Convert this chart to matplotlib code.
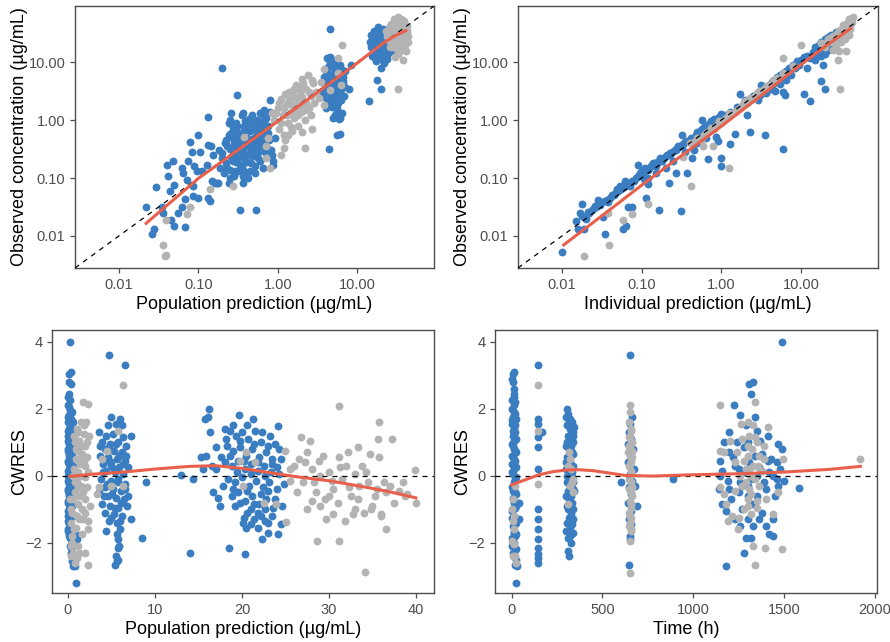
import numpy as np
import matplotlib
matplotlib.use("Agg")
import matplotlib.pyplot as plt
from matplotlib.ticker import FixedLocator, FixedFormatter

plt.rcParams['font.family'] = ['Liberation Sans', 'DejaVu Sans']

BLUE = '#3A7DC1'
GREY = '#B3B3B3'
RED = '#E8604C'

# ---- panel 1: DV vs PRED (log) ----
tl_blue = [(0.022, 0.031), (0.026, 0.011), (0.028, 0.013), (0.029, 0.071), (0.035, 0.032), (0.036, 0.025),
           (0.040, 0.17), (0.042, 0.11), (0.044, 0.059), (0.045, 0.019), (0.048, 0.20), (0.049, 0.077),
           (0.049, 0.015), (0.056, 0.025), (0.062, 0.032), (0.063, 0.15), (0.064, 0.12), (0.068, 0.014),
           (0.068, 0.044), (0.071, 0.094), (0.075, 0.20), (0.079, 0.42), (0.083, 0.28), (0.085, 0.048),
           (0.086, 0.072), (0.088, 0.16), (0.095, 0.13), (0.10, 0.55), (0.10, 0.045), (0.105, 0.28),
           (0.112, 0.13), (0.128, 0.17), (0.134, 1.14), (0.134, 0.37), (0.134, 0.045), (0.14, 0.040),
           (0.145, 0.36), (0.15, 0.088), (0.155, 0.25), (0.16, 0.083), (0.17, 0.083), (0.175, 0.082),
           (0.20, 7.9), (0.20, 0.27), (0.215, 0.40), (0.24, 0.083), (0.25, 1.0), (0.26, 1.3), (0.28, 0.40),
           (0.31, 2.7), (0.33, 0.028), (0.36, 0.083), (0.37, 1.3), (0.40, 0.75), (0.45, 1.0), (0.47, 0.46),
           (0.53, 0.028), (0.55, 0.27), (0.57, 0.60), (0.65, 1.2), (0.68, 1.5), (0.72, 0.55), (0.79, 2.2),
           (0.83, 0.31), (0.88, 0.20), (0.93, 0.50),
           (0.21, 0.12), (0.22, 0.18), (0.23, 0.35), (0.24, 0.55), (0.25, 0.14), (0.26, 0.23), (0.27, 0.75),
           (0.28, 0.11), (0.29, 0.45), (0.30, 0.19), (0.30, 0.9), (0.31, 0.32), (0.32, 0.13), (0.33, 0.6),
           (0.34, 0.24), (0.35, 1.2), (0.35, 0.16), (0.36, 0.42), (0.37, 0.29), (0.38, 0.8), (0.39, 0.2),
           (0.40, 0.12), (0.41, 0.5), (0.42, 0.35), (0.43, 1.05), (0.44, 0.26), (0.45, 0.65), (0.46, 0.18),
           (0.48, 0.4), (0.50, 0.9), (0.52, 0.3), (0.55, 0.55), (0.57, 0.22), (0.6, 1.3), (0.62, 0.75),
           (0.65, 0.4), (0.68, 0.95), (0.7, 0.28), (0.75, 0.6), (0.8, 1.4), (0.85, 0.25), (0.88, 0.17),
           (0.78, 0.45), (0.33, 0.38), (0.27, 0.5), (0.38, 0.1), (0.45, 0.85), (0.3, 0.27), (0.25, 0.32),
           (0.53, 0.7),
           (0.22, 0.45), (0.23, 0.15), (0.24, 0.9), (0.26, 0.6), (0.27, 0.2), (0.28, 0.3), (0.29, 0.13),
           (0.3, 0.55), (0.31, 0.8), (0.32, 0.22), (0.33, 0.17), (0.34, 0.45), (0.35, 0.3), (0.36, 0.62),
           (0.37, 0.14), (0.38, 0.35), (0.39, 0.95), (0.4, 0.25), (0.41, 0.19), (0.42, 0.7), (0.44, 0.4),
           (0.45, 0.13), (0.46, 0.32), (0.47, 1.2), (0.48, 0.24), (0.5, 0.5), (0.51, 0.16), (0.53, 0.38),
           (0.55, 1.0), (0.56, 0.28), (0.58, 0.45), (0.6, 0.2), (0.62, 0.35), (0.64, 0.6), (0.66, 0.15),
           (0.7, 0.5), (0.72, 1.1), (0.74, 0.33), (0.76, 0.8), (0.42, 0.1), (0.36, 0.11), (0.31, 0.38),
           (0.29, 0.65), (0.52, 0.12), (0.58, 0.9), (0.25, 0.1), (0.2, 0.22), (0.18, 0.3), (0.19, 0.15),
           (3.6, 3.0), (3.8, 5.5), (4.0, 2.4), (4.1, 7.5), (4.3, 4.0), (4.4, 2.0), (4.5, 9.5), (4.6, 3.3),
           (4.7, 6.3), (4.8, 1.7), (4.9, 4.6), (5.0, 8.5), (5.1, 2.8), (5.2, 5.2), (5.3, 3.6), (5.4, 11),
           (5.5, 1.4), (5.6, 6.8), (5.7, 4.2), (5.8, 2.5), (6.0, 9.0), (6.1, 3.1), (6.2, 5.8), (6.4, 1.3),
           (6.6, 4.8), (6.8, 3.9), (7.0, 7.0), (4.2, 12), (5.0, 1.1), (5.9, 1.05), (3.9, 3.6), (5.3, 2.2),
           (4.6, 37),
           (3.7, 4.5), (3.9, 2.8), (4.0, 6.0), (4.2, 3.0), (4.3, 8.2), (4.4, 5.0), (4.5, 2.4), (4.6, 4.4),
           (4.7, 3.8), (4.8, 10.5), (4.9, 2.1), (5.0, 5.8), (5.1, 4.0), (5.2, 7.5), (5.3, 2.9), (5.4, 4.8),
           (5.5, 3.4), (5.6, 9.5), (5.7, 2.0), (5.8, 5.2), (5.9, 3.3), (6.0, 4.4), (6.2, 2.2), (6.3, 7.6),
           (6.5, 3.6), (6.7, 5.6), (4.1, 1.6), (5.2, 1.2), (5.6, 1.6), (4.5, 12.5),
           (15, 18), (15.5, 25), (16, 14), (17, 30), (17.5, 20), (18, 35), (18.5, 16), (19, 26), (20, 12.5),
           (20.5, 22), (21, 38), (22, 17), (23, 29), (23.5, 13), (24, 33), (25, 21), (26, 40), (27, 15.5),
           (28, 25), (22, 9.5), (20, 8.0), (16, 27), (19, 19), (24, 11.5), (29, 36), (17, 12),
           (14.5, 22), (15, 30), (16, 20), (16.5, 34), (17, 16), (18, 24), (18.5, 40), (19, 14), (19.5, 31),
           (20, 18), (21, 27), (21.5, 15), (22, 34), (22.5, 23), (23, 19), (24, 26), (25, 15), (25, 30),
           (26, 23), (27, 35), (17.5, 10.5), (21, 11), (23, 21), (19, 22), (15.5, 13),
           (18, 5.0), (20, 3.4), (14, 2.1), (8.3, 9.0), (8.0, 3.5), (6.8, 2.6), (6.0, 0.58), (5.5, 0.56),
           (4.4, 0.32), (6.0, 1.1)]
tl_grey = [(0.036, 0.007), (0.039, 0.0047), (0.038, 0.0045), (0.039, 0.019), (0.071, 0.024), (0.079, 0.032),
           (0.14, 0.064), (0.27, 0.073), (0.38, 0.52), (0.72, 0.35), (0.72, 0.22), (0.79, 0.15), (0.84, 1.3),
           (1.1, 0.25), (1.2, 0.33), (2.2, 0.33), (0.75, 0.5),
           (0.9, 1.0), (1.0, 1.6), (1.05, 0.7), (1.1, 2.3), (1.15, 1.2), (1.2, 0.55), (1.3, 1.9), (1.35, 0.9),
           (1.4, 3.0), (1.45, 1.4), (1.5, 0.65), (1.55, 2.6), (1.6, 1.1), (1.7, 4.0), (1.75, 1.8), (1.8, 0.8),
           (1.9, 2.9), (1.95, 1.4), (2.0, 5.2), (2.1, 2.1), (2.2, 1.0), (2.3, 3.5), (2.4, 6.0), (2.5, 1.6),
           (2.6, 2.6), (2.7, 0.7), (2.8, 4.3), (1.25, 0.45), (2.0, 0.62), (3.5, 4.5), (3.8, 1.8), (3.3, 2.4),
           (0.95, 1.3), (1.05, 2.0), (1.1, 0.9), (1.2, 1.6), (1.25, 2.8), (1.3, 1.2), (1.4, 2.2), (1.45, 0.75),
           (1.5, 1.8), (1.6, 3.4), (1.65, 1.5), (1.7, 2.4), (1.8, 1.2), (1.85, 3.6), (1.9, 1.8), (2.0, 2.5),
           (2.1, 4.4), (2.2, 1.5), (2.3, 2.0), (2.5, 3.1), (2.6, 1.2), (2.7, 5.0), (2.9, 2.0), (3.0, 3.0),
           (1.35, 0.55),
           (4.5, 3.3), (5.7, 6.5), (6.4, 20), (5.8, 11.7), (3.8, 7.5), (6.2, 4.0),
           (24, 28), (25, 35), (26, 18), (27, 45), (28, 24), (29, 55), (30, 30), (31, 20), (32, 40), (33, 60),
           (34, 26), (35, 48), (36, 17), (37, 35), (38, 22), (39, 52), (40, 30), (41, 15.5), (42, 42),
           (30, 12.5), (33, 14), (36, 38), (28, 32), (31, 27), (35, 24), (39, 19), (44, 28), (27, 21),
           (23, 34), (25, 24), (26, 30), (27, 38), (28, 18), (29, 42), (30, 22), (31, 35), (32, 26), (33, 48),
           (34, 19), (34, 36), (35, 30), (36, 55), (37, 24), (38, 42), (40, 20), (40, 37), (41, 28), (43, 35),
           (29, 27), (32, 17), (37, 16), (26, 42), (44, 22),
           (33, 3.4), (38, 11)]
tl_smooth_x = [0.022, 0.035, 0.05, 0.075, 0.1, 0.15, 0.2, 0.3, 0.5, 1, 2, 3, 5, 7, 10, 15, 22, 30, 41]
tl_smooth_y = [0.0165, 0.0286, 0.0434, 0.070, 0.0985, 0.146, 0.194, 0.29, 0.48, 0.95, 1.9, 2.85, 4.8, 6.7,
               9.6, 14.8, 22, 28.5, 35]

# ---- panel 2: DV vs IPRED (log) ----
tr_blue = [(0.01, 0.0052), (0.016, 0.013), (0.017, 0.025), (0.018, 0.035), (0.019, 0.013), (0.026, 0.033),
           (0.028, 0.042), (0.033, 0.021), (0.035, 0.0107), (0.037, 0.042), (0.038, 0.038), (0.049, 0.064),
           (0.053, 0.073), (0.059, 0.013), (0.062, 0.088), (0.064, 0.015), (0.068, 0.031), (0.072, 0.073),
           (0.075, 0.031), (0.091, 0.17), (0.108, 0.095), (0.115, 0.046), (0.12, 0.078), (0.135, 0.17),
           (0.165, 0.028), (0.17, 0.21), (0.22, 0.083), (0.23, 0.25), (0.27, 0.12), (0.31, 0.027),
           (0.32, 0.56), (0.37, 0.12), (0.43, 0.22), (0.57, 1.0), (0.68, 0.21), (0.87, 0.52), (0.92, 0.43),
           (0.98, 0.16), (1.0, 0.22), (1.27, 0.39), (1.5, 0.58), (1.7, 2.8), (2.1, 1.2), (2.3, 0.62),
           (3.5, 0.56), (6.0, 0.32), (2.9, 2.2), (3.1, 2.7), (6.3, 2.7), (11, 2.8), (13, 2.1), (12, 7.9),
           (18, 4.8), (20, 3.4), (19, 9.0),
           (0.015, 0.018), (0.018, 0.022), (0.02, 0.02), (0.022, 0.025), (0.025, 0.03), (0.03, 0.034),
           (0.035, 0.04), (0.04, 0.045), (0.045, 0.05), (0.05, 0.06), (0.055, 0.065), (0.06, 0.07),
           (0.07, 0.075), (0.08, 0.09), (0.09, 0.11), (0.1, 0.13), (0.11, 0.15), (0.12, 0.14), (0.13, 0.16),
           (0.14, 0.18), (0.15, 0.16), (0.16, 0.19), (0.17, 0.22), (0.18, 0.2), (0.2, 0.24), (0.22, 0.26),
           (0.24, 0.28), (0.26, 0.3), (0.28, 0.33), (0.3, 0.36), (0.32, 0.35), (0.35, 0.42), (0.4, 0.45),
           (0.45, 0.5), (0.5, 0.62), (0.55, 0.68), (0.6, 0.75), (0.65, 0.8), (0.7, 0.85), (0.75, 0.95),
           (0.8, 1.05), (0.85, 1.0), (0.9, 1.1), (1.0, 1.25), (1.1, 1.2), (1.3, 1.4), (1.6, 1.7), (2.0, 2.2),
           (2.5, 2.6), (3.0, 3.0), (3.5, 3.6), (4.0, 4.1), (4.5, 4.2), (5.0, 5.5), (5.5, 6.0), (6.0, 6.4),
           (6.5, 7.0), (7.0, 8.0), (8.0, 9.0), (9.0, 10.5), (10, 11), (12, 13), (14, 15), (15, 18), (16, 14),
           (17, 20), (18, 22), (19, 17), (20, 25), (21, 19), (22, 27), (24, 30), (25, 23), (26, 28), (28, 33),
           (30, 35), (32, 30), (34, 38), (36, 34), (38, 40), (40, 37), (5.5, 4.2), (6.5, 5.0), (4.2, 3.5),
           (3.7, 2.9), (7.5, 6.0), (3.2, 4.0), (2.8, 2.5), (4.8, 3.2), (6, 3.0), (0.5, 0.4), (0.45, 0.3),
           (0.65, 0.5), (0.35, 0.28), (0.25, 0.2), (0.2, 0.15), (0.15, 0.12), (0.12, 0.1), (15, 11), (18, 13),
           (22, 16), (25, 18), (20, 14),
           (0.021, 0.026), (0.024, 0.028), (0.027, 0.032), (0.032, 0.038), (0.042, 0.05), (0.048, 0.058),
           (0.058, 0.07), (0.065, 0.078), (0.075, 0.09), (0.085, 0.1), (0.095, 0.12), (0.105, 0.12),
           (0.125, 0.15), (0.145, 0.17), (0.155, 0.19), (0.19, 0.22), (0.21, 0.25), (0.23, 0.27), (0.27, 0.31),
           (0.29, 0.35), (0.33, 0.38), (0.37, 0.43), (0.42, 0.5), (0.48, 0.56), (0.52, 0.6), (0.58, 0.7),
           (0.62, 0.72), (0.68, 0.8), (0.72, 0.9), (0.78, 0.92), (0.82, 0.98), (0.95, 1.15), (3.3, 3.3),
           (3.8, 3.7), (4.3, 4.6), (4.7, 4.9), (5.2, 5.0), (5.8, 5.6), (6.3, 6.0), (7.0, 6.8), (7.5, 7.8),
           (8.5, 8.0), (9.5, 9.0), (11, 12.5), (13, 12), (16, 17), (19, 21), (21, 23), (23, 22), (27, 26),
           (29, 31), (31, 33), (35, 32)]
tr_grey = [(0.019, 0.0045), (0.039, 0.007), (0.038, 0.025), (0.059, 0.019), (0.075, 0.024), (0.12, 0.035),
           (0.33, 0.23), (0.42, 0.073), (0.59, 0.35), (0.78, 0.36), (1.25, 0.15), (31, 3.4), (29, 11),
           (37, 15.6), (10, 20), (6, 11.7),
           (0.4, 0.4), (0.5, 0.5), (0.55, 0.45), (0.6, 0.55), (0.7, 0.65), (0.8, 0.7), (0.9, 0.85), (1.0, 0.9),
           (1.1, 1.05), (1.2, 1.15), (1.3, 1.25), (1.5, 1.4), (1.7, 1.6), (1.9, 1.9), (2.1, 2.0), (2.3, 2.4),
           (2.5, 2.3), (2.8, 2.9), (3.0, 3.2), (3.4, 3.5), (3.8, 3.9), (4.5, 5.0), (6.0, 6.5), (8, 8.5),
           (18, 21), (20, 18), (22, 25), (24, 22), (25, 28), (26, 24), (28, 30), (30, 27), (30, 34), (32, 31),
           (33, 38), (34, 29), (35, 36), (36, 42), (38, 33), (40, 45), (42, 38), (44, 50), (40, 55), (45, 60),
           (28, 20), (32, 22), (36, 25), (40, 30), (25, 16), (30, 15.5),
           (0.45, 0.42), (0.65, 0.6), (0.75, 0.72), (0.85, 0.8), (0.95, 0.95), (1.05, 0.98), (1.15, 1.1),
           (1.25, 1.3), (1.4, 1.3), (1.6, 1.5), (1.8, 1.75), (2.0, 2.1), (2.2, 2.15), (2.6, 2.5), (3.2, 3.1),
           (3.6, 3.7), (4.0, 4.0), (5.0, 5.3), (21, 22), (23, 26), (27, 27), (29, 33), (31, 36), (33, 32),
           (35, 40), (37, 39), (39, 42), (41, 44), (43, 45), (38, 48), (42, 55), (34, 44)]
tr_smooth_x = [0.0105, 0.03, 0.1, 0.3, 1, 3, 10, 20, 42]
tr_smooth_y = [0.007, 0.021, 0.075, 0.23, 0.78, 2.5, 9.0, 18.5, 38]

# ---- panel 3: CWRES vs PRED ----
bl_blue = [(0.1, 3.05), (0.3, 3.1), (0.1, 2.8), (0.3, 2.75), (0.1, 2.45), (0.2, 2.25), (0.05, 2.1), (0.2, 1.95),
           (0.1, 1.8), (0.3, 1.7), (0.05, 1.6), (0.2, 1.5), (0.1, 1.4), (0.3, 1.3), (0.05, 1.2), (0.2, 1.1),
           (0.1, 1.0), (0.3, 0.9), (0.05, 0.8), (0.2, 0.7), (0.1, 0.6), (0.3, 0.5), (0.05, 0.4), (0.2, 0.3),
           (0.1, 0.2), (0.3, 0.1), (0.05, 0.0), (0.2, -0.1), (0.1, -0.2), (0.3, -0.3), (0.05, -0.4), (0.2, -0.5),
           (0.1, -0.6), (0.3, -0.7), (0.05, -0.8), (0.2, -0.9), (0.1, -1.0), (0.3, -1.1), (0.05, -1.2),
           (0.2, -1.3), (0.1, -1.4), (0.3, -1.5), (0.05, -1.6), (0.2, -1.7), (0.1, -1.8), (0.3, -1.9),
           (0.5, -2.0), (0.2, -2.1), (0.4, -2.3), (0.6, -2.45), (0.6, -2.7), (0.8, -2.7), (0.9, -3.2),
           (0.2, 4.0), (0.6, 1.6), (0.7, 1.2), (0.8, -1.7), (0.7, -1.9), (0.6, -0.3), (0.6, 0.3), (0.9, -1.2),
           (1.0, -1.9),
           (0.0, 2.35), (0.15, 2.05), (0.25, 1.85), (0.0, 1.75), (0.15, 1.65), (0.25, 1.45), (0.0, 1.35),
           (0.15, 1.25), (0.25, 1.15), (0.0, 1.05), (0.15, 0.95), (0.25, 0.85), (0.0, 0.75), (0.15, 0.65),
           (0.25, 0.55), (0.0, 0.45), (0.15, 0.35), (0.25, 0.25), (0.0, 0.15), (0.15, 0.05), (0.25, -0.05),
           (0.0, -0.15), (0.15, -0.25), (0.25, -0.35), (0.0, -0.45), (0.15, -0.55), (0.25, -0.65), (0.0, -0.75),
           (0.15, -0.85), (0.25, -0.95), (0.0, -1.05), (0.15, -1.15), (0.25, -1.25), (0.0, -1.35),
           (0.15, -1.45), (0.25, -1.55), (0.0, -1.65), (0.15, -1.75), (0.25, -1.85), (0.4, -2.15), (0.5, -2.55),
           (0.4, -1.6), (0.45, 1.9), (0.45, 0.6), (0.45, -0.9),
           (4.7, 3.6), (6.6, 3.3), (5.0, 1.75), (6.0, 1.7), (5.5, 1.55), (3.6, 1.3), (4.4, 1.2), (5.2, 1.25),
           (6.3, 1.15), (7.2, 1.2), (3.9, 1.0), (4.8, 0.95), (5.8, 1.0), (6.7, 0.9), (4.2, 0.8), (5.3, 0.75),
           (6.2, 0.7), (3.7, 0.6), (4.6, 0.55), (5.6, 0.5), (6.5, 0.45), (4.0, 0.35), (5.0, 0.3), (5.9, 0.25),
           (6.9, 0.25), (4.4, 0.15), (5.4, 0.1), (6.3, 0.05), (3.8, -0.1), (4.9, -0.15), (5.7, -0.2),
           (6.6, -0.25), (4.2, -0.35), (5.2, -0.4), (6.1, -0.45), (3.6, -0.5), (4.6, -0.6), (5.5, -0.65),
           (6.4, -0.7), (3.9, -0.85), (4.8, -0.9), (5.8, -0.95), (6.8, -0.9), (4.3, -1.1), (5.3, -1.15),
           (6.2, -1.2), (4.7, -1.35), (5.6, -1.4), (4.4, -1.65), (6.0, -1.6), (5.8, -1.9), (5.7, -2.15),
           (5.5, -2.4), (5.8, -2.5), (5.4, -2.65), (7.3, -1.3),
           (3.7, 0.9), (4.0, 0.1), (4.3, 0.45), (4.5, -0.25), (4.7, 0.85), (4.9, 0.4), (5.1, -0.55), (5.3, 0.2),
           (5.5, 0.95), (5.7, -0.1), (5.9, 0.6), (6.1, -0.8), (6.3, 0.35), (6.5, -0.4), (6.7, 0.6), (6.9, -0.6),
           (5.0, -1.25), (5.4, -0.95), (6.0, -1.35), (4.6, 1.5), (6.2, 1.5), (5.6, -1.75), (5.9, -2.1),
           (5.6, -2.55), (4.1, -0.6),
           (9.0, -0.2), (8.5, -1.85), (13, 0.03), (14.4, -0.1), (14, -2.3), (18.5, -2.15), (20.4, -2.35),
           (16.2, 2.0), (16.1, 1.75), (15.7, 1.7), (16.3, 1.3), (15.3, 0.55), (15.5, 0.2), (17.0, 0.85),
           (16.7, -0.5), (17.3, -0.65), (17.5, -0.9), (19.7, 1.8), (21.3, 1.7), (24.1, 1.48), (23.0, -1.7),
           (22.3, -1.88), (24.1, -1.74), (24.5, -1.45), (20.5, -1.57),
           (18.0, 1.4), (18.6, 1.35), (19.3, 1.2), (20.0, 1.3), (20.7, 1.1), (21.5, 1.35), (22.2, 1.0),
           (23.2, 1.2), (23.8, 0.95), (18.3, 0.9), (19.0, 0.75), (19.8, 0.85), (20.5, 0.6), (21.2, 0.8),
           (22.0, 0.55), (22.8, 0.7), (23.5, 0.5), (24.3, 0.8), (18.0, 0.4), (18.8, 0.3), (19.5, 0.45),
           (20.3, 0.2), (21.0, 0.35), (21.8, 0.15), (22.5, 0.3), (23.3, 0.1), (24.0, 0.25), (18.4, -0.1),
           (19.2, -0.2), (20.0, -0.05), (20.8, -0.3), (21.6, -0.15), (22.4, -0.35), (23.1, -0.2), (24.0, -0.4),
           (24.8, -0.25), (18.8, -0.6), (19.6, -0.5), (20.4, -0.75), (21.2, -0.6), (22.0, -0.85), (22.8, -0.7),
           (23.6, -0.95), (19.2, -0.9), (20.6, -1.1), (21.4, -1.3), (22.2, -1.2), (23.0, -1.4), (20.1, -1.4),
           (21.8, -1.55), (16.5, 0.3), (17.6, 0.55), (17.8, -0.3), (15.9, 0.6), (21.0, -1.0), (22.6, -1.0),
           (18.2, 1.1), (19.0, 1.5), (19.8, 1.05), (20.6, 1.5), (21.4, 0.95), (22.3, 1.3), (23.0, 0.9),
           (18.6, 0.6), (19.4, 0.1), (20.2, 0.45), (21.0, 0.05), (21.8, 0.4), (22.6, 0.0), (23.4, 0.35),
           (24.2, 0.05), (19.0, -0.4), (19.8, -0.8), (20.6, -0.45), (21.4, -0.85), (22.2, -0.55), (23.0, -0.45),
           (23.8, -0.7), (20.2, -1.25), (21.0, -1.45), (21.8, -1.1), (22.6, -1.35), (23.4, -1.2), (24.5, 0.5),
           (24.6, -0.9), (17.0, 0.2)]
bl_grey = [(1.7, 2.2), (2.3, 2.15), (1.5, 1.6), (2.1, 1.6), (1.0, 1.4), (1.8, 1.25), (2.4, 1.2), (0.8, 1.0),
           (1.3, 1.05), (2.0, 0.9), (1.1, 0.75), (1.6, 0.65), (2.2, 0.55), (0.9, 0.5), (1.4, 0.35), (2.0, 0.3),
           (0.7, 0.2), (1.2, 0.1), (1.9, -0.05), (1.0, -0.2), (1.5, -0.3), (2.2, -0.35), (0.8, -0.5),
           (1.3, -0.6), (1.9, -0.7), (0.6, -0.7), (1.1, -0.85), (1.6, -1.0), (2.5, -0.9), (0.5, -1.1),
           (1.0, -1.2), (1.7, -1.3), (2.3, -1.35), (0.4, -1.4), (2.3, -1.6), (0.9, -1.55), (0.5, -2.0),
           (0.3, -2.1), (0.4, -2.4), (1.2, -2.1), (1.3, -2.3), (0.8, -2.6), (2.0, -2.3), (2.3, -2.65),
           (0.2, -0.7), (0.3, -1.0),
           (0.7, 1.2), (1.2, 1.3), (1.8, 1.5), (2.2, 1.0), (0.9, 0.8), (1.5, 0.9), (1.8, 0.45), (1.1, 0.5),
           (0.6, 0.0), (1.4, 0.0), (2.3, 0.1), (0.8, -0.2), (1.7, -0.5), (1.2, -0.35), (2.0, -1.1), (1.3, -1.3),
           (0.7, -1.6), (1.6, -1.75), (0.5, -1.8), (0.6, -2.3), (1.0, -2.45),
           (6.3, 2.7), (5.0, -0.3), (6.3, -0.3), (3.6, -0.35), (5.7, 1.35), (4.5, 0.75), (3.3, -0.55), (3.9, 0.5),
           (31.2, 2.07), (35.7, 1.6), (35.6, 1.1), (37.2, 1.1), (34.1, -2.87), (28.6, -1.95), (31.1, -1.95),
           (36.6, -1.6), (39.9, 0.18), (40.0, -0.8), (38.7, -0.6), (31.8, -1.35), (29.7, -1.3), (26.8, 1.15),
           (27.8, 1.05), (31.2, 0.55), (32.2, 0.7), (33.3, 0.85), (34.7, 0.65), (35.8, 0.55), (24.9, 0.75),
           (25.1, -1.38), (23.9, -0.83),
           (26.0, 0.3), (27.0, -0.2), (28.0, 0.2), (28.5, -0.5), (29.0, 0.0), (29.5, -0.7), (30.0, 0.1),
           (30.5, -0.4), (31.0, -0.8), (31.5, -0.1), (32.0, 0.3), (32.5, -0.6), (33.0, -1.0), (33.5, -0.3),
           (34.0, -1.1), (34.5, -0.2), (35.0, -0.9), (35.5, -0.4), (36.0, -1.15), (36.5, -0.5), (37.0, -0.3),
           (38.0, -0.45), (27.5, -1.0), (29.0, -0.9), (30.5, -1.15), (26.5, 0.5), (28.8, 0.45), (33.8, 0.3),
           (25.5, 0.2), (27.2, 0.4), (20.5, 0.7), (19.8, 0.45), (20.1, -0.3), (21.5, 0.4), (25.5, -0.15),
           (22.5, -0.8),
           (26.3, -0.5), (27.5, 0.7), (28.3, -0.2), (29.3, 0.6), (30.3, -0.15), (31.3, 0.25), (32.3, -0.35),
           (33.3, -0.7), (34.3, 0.1), (35.3, -0.6), (36.3, -0.2), (37.5, -0.8), (38.5, -0.2), (39.0, -0.55),
           (32.8, -1.15), (34.8, -1.0), (33.0, 0.05), (30.0, -0.6), (28.0, -0.75), (36.0, -1.2)]
bl_smooth_x = [0.2, 3, 6, 10, 14, 17, 20, 23, 26, 30, 34, 37, 40]
bl_smooth_y = [-0.02, 0.05, 0.10, 0.20, 0.28, 0.30, 0.22, 0.10, -0.02, -0.15, -0.33, -0.48, -0.66]

# ---- panel 4: CWRES vs TIME ----
br_blue = [(5, 3.05), (15, 3.1), (5, 2.8), (10, 2.35), (20, 2.2), (0, 2.0), (15, 1.9), (5, 1.75), (25, 1.7),
           (0, 1.55), (10, 1.45), (20, 1.3), (5, 1.2), (15, 1.05), (0, 0.95), (10, 0.8), (25, 0.7), (5, 0.55),
           (20, 0.45), (0, 0.35), (15, 0.2), (5, 0.05), (25, -0.05), (10, -0.2), (0, -0.35), (20, -0.5),
           (5, -0.65), (15, -0.8), (25, -0.9), (0, -1.05), (10, -1.2), (20, -1.35), (5, -1.5), (15, -1.65),
           (25, -1.75), (0, -1.85), (10, -2.0), (20, -2.15), (5, -2.3), (25, -2.5), (20, -2.65), (25, -3.2),
           (40, -0.8), (40, -1.3),
           (0, 2.9), (10, 2.6), (15, 2.45), (0, 2.25), (10, 2.1), (20, 1.85), (0, 1.65), (10, 1.6), (20, 1.5),
           (5, 1.35), (15, 1.25), (25, 1.1), (5, 0.9), (20, 0.75), (0, 0.6), (15, 0.5), (10, 0.3), (25, 0.25),
           (0, 0.1), (20, -0.1), (15, -0.3), (5, -0.45), (25, -0.55), (10, -0.75), (20, -0.95), (0, -1.25),
           (25, -1.4), (15, -1.5), (10, -1.7), (20, -1.8), (0, -2.1), (15, -2.35), (5, -2.0), (25, -2.2),
           (30, -2.7),
           (143, 3.3), (143, 1.7), (143, 1.55), (165, 1.3), (143, 1.15), (143, 0.85), (143, 0.2), (143, -1.0),
           (143, -1.3), (143, -1.6), (143, -1.9), (143, -2.15), (143, -2.35), (143, -2.45), (143, -2.6),
           (305, 2.0), (310, 1.85), (320, 1.7), (330, 1.6), (305, 1.5), (320, 1.4), (335, 1.3), (310, 1.2),
           (325, 1.1), (340, 1.0), (300, 0.9), (315, 0.8), (330, 0.7), (305, 0.55), (320, 0.45), (335, 0.3),
           (300, 0.2), (315, 0.1), (330, -0.05), (305, -0.2), (320, -0.35), (340, -0.4), (300, -0.6),
           (315, -0.7), (330, -0.8), (310, -1.0), (325, -1.15), (340, -1.3), (305, -1.4), (320, -1.55),
           (335, -1.7), (310, -1.85), (325, -2.0), (310, -2.25), (315, -2.4), (345, 1.45), (345, -0.45),
           (300, 1.75), (315, 1.65), (330, 1.45), (340, 1.2), (305, 1.0), (325, 0.9), (340, 0.65), (300, 0.4),
           (320, 0.25), (305, 0.0), (330, 0.1), (340, -0.2), (310, -0.45), (325, -0.6), (305, -0.9),
           (335, -1.0), (315, -1.25), (300, -1.65), (330, -1.45), (320, -1.8),
           (650, 3.6), (665, 1.75), (650, 1.55), (645, 1.3), (660, 1.1), (640, 0.95), (670, 0.8), (655, 0.6),
           (640, 0.4), (675, 0.2), (650, 0.05), (665, -0.15), (645, -0.35), (680, -0.3), (660, -0.55),
           (640, -0.8), (690, -0.9), (655, -1.05), (645, -1.3), (660, -1.45), (650, -1.8), (650, -1.9),
           (645, -2.65), (600, -0.2), (890, -0.1),
           (1490, 4.0), (1310, 2.75), (1330, 2.8), (1320, 2.45), (1225, 2.1), (1260, 1.8), (1340, 1.75),
           (1195, 1.3), (1290, 1.5), (1350, 1.35), (1410, 1.2), (1470, 0.95), (1240, 1.0), (1150, 0.45),
           (1200, 0.7), (1280, 0.85), (1380, 0.65), (1430, 0.5), (1490, 0.8), (1160, 0.15), (1230, 0.3),
           (1310, 0.4), (1360, 0.25), (1420, 0.1), (1480, 0.2), (1140, -0.4), (1190, -0.15), (1250, -0.5),
           (1300, -0.3), (1350, -0.6), (1400, -0.4), (1460, -0.1), (1500, -0.15), (1160, -0.85), (1210, -0.7),
           (1270, -1.0), (1330, -0.85), (1380, -1.1), (1440, -1.3), (1180, -1.05), (1300, -1.3), (1330, -1.5),
           (1290, -1.85), (1320, -1.85), (1280, -2.3), (1180, -2.7), (1420, -1.75), (1440, -1.8), (1585, -0.37),
           (1460, 0.4), (1150, 0.0), (1250, 0.2),
           (1170, 1.0), (1220, 0.55), (1260, -0.2), (1280, 0.1), (1300, 1.0), (1320, -0.1), (1340, 0.6),
           (1370, 1.05), (1390, -0.2), (1410, 0.45), (1440, 0.0), (1450, -0.6), (1470, -0.3), (1400, -1.5),
           (1360, -1.3), (1230, -1.3), (1260, -1.5), (1300, -0.6), (1200, -0.4), (1350, 0.0)]
br_grey = [(5, -0.7), (0, -1.0), (10, -1.2), (5, -1.35), (0, -1.95), (10, -2.05), (5, -2.4), (20, -2.4),
           (25, -2.6), (20, -0.3), (15, -1.6),
           (143, 2.7), (143, 1.35), (143, -0.25),
           (315, 0.7), (320, 0.5), (310, 0.3), (325, 0.2), (330, -0.2), (320, -0.3), (335, -0.5), (310, -0.85),
           (340, -0.1),
           (650, 2.1), (645, 1.6), (655, 1.4), (650, 1.2), (660, 1.05), (645, 0.9), (665, 0.75), (650, 0.6),
           (655, 0.45), (645, 0.3), (660, 0.15), (650, 0.0), (655, -0.2), (645, -0.4), (665, -0.6), (650, -0.75),
           (655, -0.95), (645, -1.1), (660, -1.25), (650, -1.4), (655, -1.65), (650, -1.95), (650, -2.9),
           (665, -0.35),
           (650, 1.9), (660, 1.35), (645, 1.15), (655, 0.95), (665, 0.55), (650, 0.35), (660, 0.05), (645, -0.1),
           (655, -0.5), (660, -0.85), (650, -1.2), (645, -1.5), (660, -1.6), (665, 1.0), (640, 0.7),
           (1150, 2.1), (1340, 2.2), (1265, 1.55), (1330, 1.5), (1205, 1.05), (1270, 1.1), (1350, 1.0),
           (1390, 0.9), (1415, 1.45), (1150, 0.75), (1170, 0.7), (1230, 0.4), (1300, 0.6), (1325, 0.8),
           (1355, 0.3), (1390, 0.5), (1495, 0.5), (1260, 0.0), (1310, 0.2), (1340, -0.1), (1380, 0.15),
           (1150, -0.35), (1170, -0.55), (1230, -0.45), (1290, -0.2), (1320, -0.55), (1360, -0.3), (1470, -0.5),
           (1180, -0.85), (1215, -1.2), (1250, -1.25), (1300, -0.9), (1350, -0.95), (1400, -0.7), (1190, -1.35),
           (1245, -1.6), (1320, -1.15), (1440, -1.15), (1340, -2.65), (1330, -2.1), (1395, -2.15), (1490, -2.2),
           (1280, 0.45), (1300, 0.9), (1310, -0.4), (1330, 0.3), (1340, 1.15), (1300, -0.7), (1320, 0.0),
           (1280, -1.0), (1360, 0.6), (1290, 0.2), (1270, -0.3), (1350, -0.75), (1310, 1.2), (1300, 1.6),
           (1240, 0.7),
           (1922, 0.5)]
br_smooth_x = [0, 75, 150, 225, 300, 370, 450, 525, 625, 775, 1000, 1250, 1500, 1750, 1922]
br_smooth_y = [-0.27, -0.12, 0.03, 0.12, 0.17, 0.18, 0.15, 0.09, 0.01, -0.01, 0.03, 0.06, 0.11, 0.19, 0.28]

log_ticks = [0.01, 0.1, 1, 10]
log_labels = ['0.01', '0.10', '1.00', '10.00']


def scatter(ax, blue, grey):
    bx, by = zip(*blue)
    gx, gy = zip(*grey)
    ax.scatter(bx, by, s=32, color=BLUE, linewidths=0, zorder=2)
    ax.scatter(gx, gy, s=32, color=GREY, linewidths=0, zorder=2)


def style(ax):
    for sp in ax.spines.values():
        sp.set_color('#4D4D4D')
        sp.set_linewidth(1.0)
    ax.tick_params(colors='#4D4D4D', labelsize=10.5, length=3.5, width=0.9)
    for lab in ax.get_xticklabels() + ax.get_yticklabels():
        lab.set_color('#4D4D4D')


fig = plt.figure(figsize=(8.9, 6.42), dpi=100)
ax1 = fig.add_axes([0.0843, 0.5826, 0.4034, 0.408])
ax2 = fig.add_axes([0.582, 0.5826, 0.4045, 0.408])
ax3 = fig.add_axes([0.0584, 0.0763, 0.4292, 0.4097])
ax4 = fig.add_axes([0.5562, 0.0763, 0.4292, 0.4097])

lo, hi = 0.0028, 93
for ax, blue, grey, sx, sy, xl in [(ax1, tl_blue, tl_grey, tl_smooth_x, tl_smooth_y, 'Population prediction (µg/mL)'),
                                   (ax2, tr_blue, tr_grey, tr_smooth_x, tr_smooth_y, 'Individual prediction (µg/mL)')]:
    ax.set_xscale('log')
    ax.set_yscale('log')
    scatter(ax, blue, grey)
    ax.plot([lo, hi], [lo, hi], color='black', ls=(0, (4, 4)), lw=0.9, zorder=3)
    ax.plot(sx, sy, color=RED, lw=2.2, zorder=4)
    ax.set_xlim(lo, hi)
    ax.set_ylim(lo, hi)
    ax.xaxis.set_major_locator(FixedLocator(log_ticks))
    ax.xaxis.set_major_formatter(FixedFormatter(log_labels))
    ax.yaxis.set_major_locator(FixedLocator(log_ticks))
    ax.yaxis.set_major_formatter(FixedFormatter(log_labels))
    ax.minorticks_off()
    ax.set_xlabel(xl, fontsize=13, labelpad=3)
    ax.set_ylabel('Observed concentration (µg/mL)', fontsize=13, labelpad=0)
    style(ax)

for ax, blue, grey, sx, sy, xl, xlim, xt in [
        (ax3, bl_blue, bl_grey, bl_smooth_x, bl_smooth_y, 'Population prediction (µg/mL)', (-1.84, 42.07), [0, 10, 20, 30, 40]),
        (ax4, br_blue, br_grey, br_smooth_x, br_smooth_y, 'Time (h)', (-92, 2013), [0, 500, 1000, 1500, 2000])]:
    scatter(ax, blue, grey)
    ax.axhline(0, color='black', ls=(0, (4, 4)), lw=0.9, zorder=3)
    ax.plot(sx, sy, color=RED, lw=2.2, zorder=4)
    ax.set_xlim(*xlim)
    ax.set_ylim(-3.5, 4.35)
    ax.set_xticks(xt)
    ax.set_yticks([-2, 0, 2, 4])
    ax.set_xlabel(xl, fontsize=13, labelpad=3)
    ax.set_ylabel('CWRES', fontsize=13, labelpad=-2)
    style(ax)

fig.savefig('out.png', dpi=100)
